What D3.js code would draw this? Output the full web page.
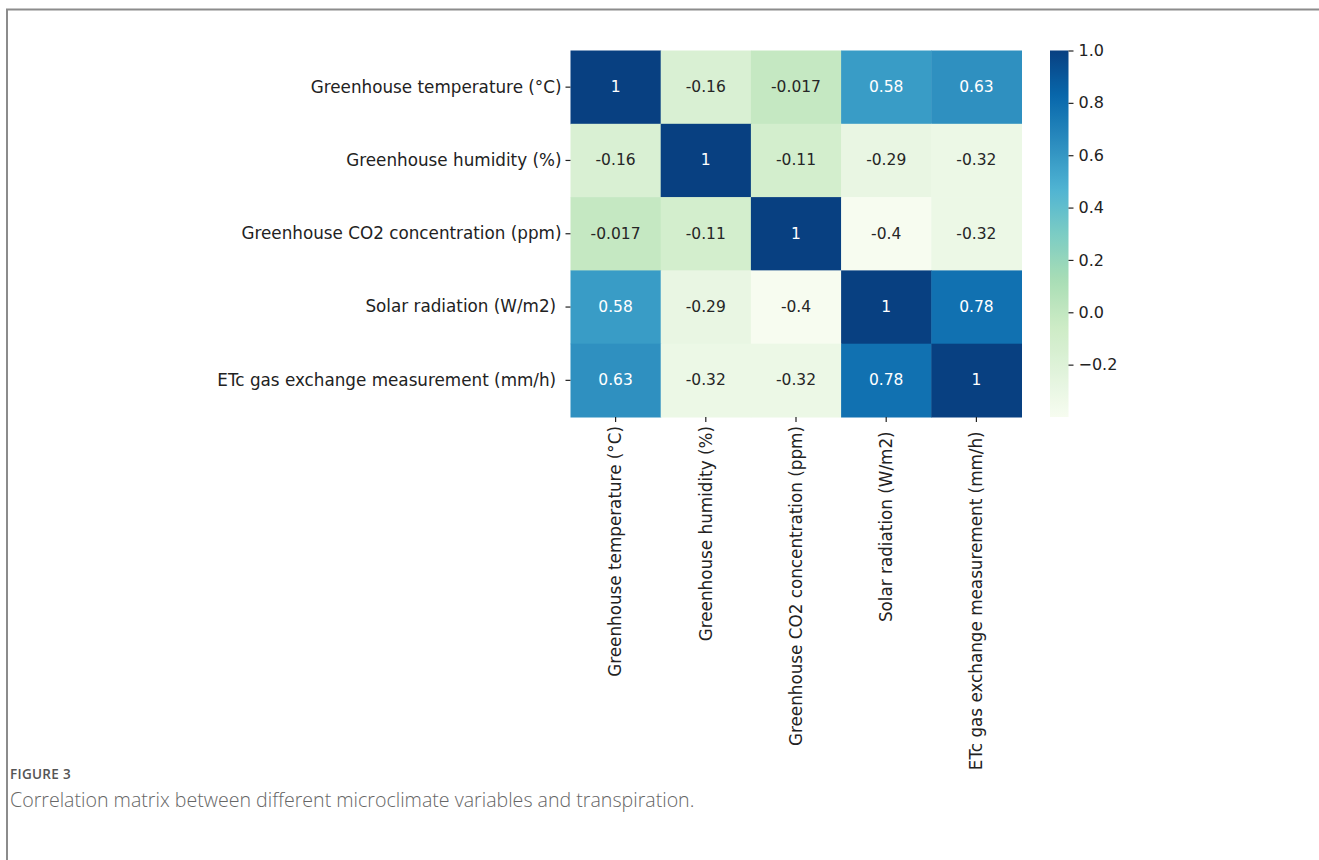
<!DOCTYPE html>
<html>
<head>
<meta charset="utf-8">
<script src="https://cdn.jsdelivr.net/npm/d3@7"></script>
<style>
  html, body { margin: 0; padding: 0; background: #fff; }
  svg { display: block; }
  .tick text { font-family: "DejaVu Sans", sans-serif; white-space: pre; }
</style>
</head>
<body>
<svg id="chart" width="1319" height="860"></svg>
<script>
// ---- data ----
const categories = [
  "Greenhouse temperature (°C)",
  "Greenhouse humidity (%)",
  "Greenhouse CO2 concentration (ppm)",
  "Solar radiation (W/m2) ",
  "ETc gas exchange measurement (mm/h) "
];
const rowTemperature = [1, -0.16, -0.017, 0.58, 0.63];
const rowHumidity    = [-0.16, 1, -0.11, -0.29, -0.32];
const rowCO2         = [-0.017, -0.11, 1, -0.4, -0.32];
const rowSolar       = [0.58, -0.29, -0.4, 1, 0.78];
const rowETc         = [0.63, -0.32, -0.32, 0.78, 1];
const colorbarTicks  = [-0.2, 0.0, 0.2, 0.4, 0.6, 0.8, 1.0];
const gnbuColors = ["#f7fcf0","#e0f3db","#ccebc5","#a8ddb5","#7bccc4","#4eb3d3","#2b8cbe","#0868ac","#084081"];
const figureLabel = "FIGURE 3";
const captionText = "Correlation matrix between different microclimate variables and transpiration.";

const matrix = [rowTemperature, rowHumidity, rowCO2, rowSolar, rowETc];
const cells = [];
matrix.forEach((row, i) => row.forEach((v, j) => cells.push({row: categories[i], col: categories[j], value: v})));

const vmin = d3.min(cells, d => d.value), vmax = d3.max(cells, d => d.value);

const svg = d3.select("#chart");

// frame lines
svg.append("path")
  .attr("d", "M6,9.5 H1319 M7,9 V860")
  .attr("fill", "none").attr("stroke", "#8c8c8c").attr("stroke-width", 2);

const x = d3.scaleBand().domain(categories).range([570.5, 1021.5]).padding(0);
const y = d3.scaleBand().domain(categories).range([50.5, 417]).padding(0);

const color = d3.scaleLinear()
  .domain(gnbuColors.map((c, i) => vmin + (vmax - vmin) * i / (gnbuColors.length - 1)))
  .range(gnbuColors)
  .interpolate(d3.interpolateRgb);

function luminance(c) {
  const rgb = d3.rgb(c);
  const f = v => { v /= 255; return v <= 0.03928 ? v / 12.92 : Math.pow((v + 0.055) / 1.055, 2.4); };
  return 0.2126 * f(rgb.r) + 0.7152 * f(rgb.g) + 0.0722 * f(rgb.b);
}

const g = svg.append("g");
g.selectAll("rect.cell").data(cells).join("rect")
  .attr("class", "cell")
  .attr("x", d => x(d.col)).attr("y", d => y(d.row))
  .attr("width", x.bandwidth() + 0.5).attr("height", y.bandwidth() + 0.5)
  .attr("fill", d => color(d.value));

g.selectAll("text.annot").data(cells).join("text")
  .attr("class", "annot")
  .attr("x", d => x(d.col) + x.bandwidth() / 2)
  .attr("y", d => y(d.row) + y.bandwidth() / 2)
  .attr("text-anchor", "middle").attr("dominant-baseline", "central")
  .attr("font-family", "DejaVu Sans, sans-serif").attr("font-size", 15.5)
  .attr("fill", d => luminance(color(d.value)) > 0.408 ? "#262626" : "#ffffff")
  .text(d => String(d.value));

const labelSize = 16.8;

// y axis
const yAxis = svg.append("g").attr("transform", "translate(570.5,0)")
  .call(d3.axisLeft(y).tickSize(5).tickPadding(4));
yAxis.select(".domain").remove();
yAxis.selectAll(".tick line").attr("stroke", "#222").attr("stroke-width", 1.2);
yAxis.selectAll(".tick text").attr("font-family", "DejaVu Sans, sans-serif")
  .attr("font-size", labelSize).attr("fill", "#222");

// x axis
const xAxis = svg.append("g").attr("transform", "translate(0,417)")
  .call(d3.axisBottom(x).tickSize(5).tickPadding(4));
xAxis.select(".domain").remove();
xAxis.selectAll(".tick line").attr("stroke", "#222").attr("stroke-width", 1.2);
xAxis.selectAll(".tick text")
  .attr("font-family", "DejaVu Sans, sans-serif")
  .attr("font-size", labelSize).attr("fill", "#222")
  .attr("text-anchor", "end")
  .attr("transform", "rotate(-90)")
  .attr("x", -9).attr("y", 0).attr("dy", "0.35em");

// colorbar
const cbX = 1050, cbW = 18.5;
const cbScale = d3.scaleLinear().domain([vmin, vmax]).range([417, 50.5]);
const defs = svg.append("defs");
const grad = defs.append("linearGradient").attr("id", "cbgrad")
  .attr("x1", 0).attr("y1", 1).attr("x2", 0).attr("y2", 0);
d3.range(0, 1.0001, 0.02).forEach(t => {
  grad.append("stop").attr("offset", t).attr("stop-color", color(vmin + t * (vmax - vmin)));
});
svg.append("rect").attr("x", cbX).attr("y", cbScale(vmax)).attr("width", cbW)
  .attr("height", cbScale(vmin) - cbScale(vmax)).attr("fill", "url(#cbgrad)");
const cbAxis = svg.append("g").attr("transform", `translate(${cbX + cbW},0)`)
  .call(d3.axisRight(cbScale).tickValues(colorbarTicks).tickFormat(d3.format(".1f")).tickSize(5).tickPadding(5));
cbAxis.select(".domain").remove();
cbAxis.selectAll(".tick line").attr("stroke", "#222").attr("stroke-width", 1.2);
cbAxis.selectAll(".tick text").attr("font-family", "DejaVu Sans, sans-serif")
  .attr("font-size", 16).attr("fill", "#222");

// caption
svg.append("text").attr("x", 10).attr("y", 779)
  .attr("font-family", "'Open Sans', sans-serif").attr("font-size", 13.5)
  .attr("letter-spacing", 0.3)
  .attr("font-weight", 600).attr("fill", "#555").text(figureLabel);
svg.append("text").attr("x", 10).attr("y", 807)
  .attr("font-family", "'Open Sans', sans-serif").attr("font-size", 19.6)
  .attr("font-weight", 300)
  .attr("fill", "#666").text(captionText);
</script>
</body>
</html>
